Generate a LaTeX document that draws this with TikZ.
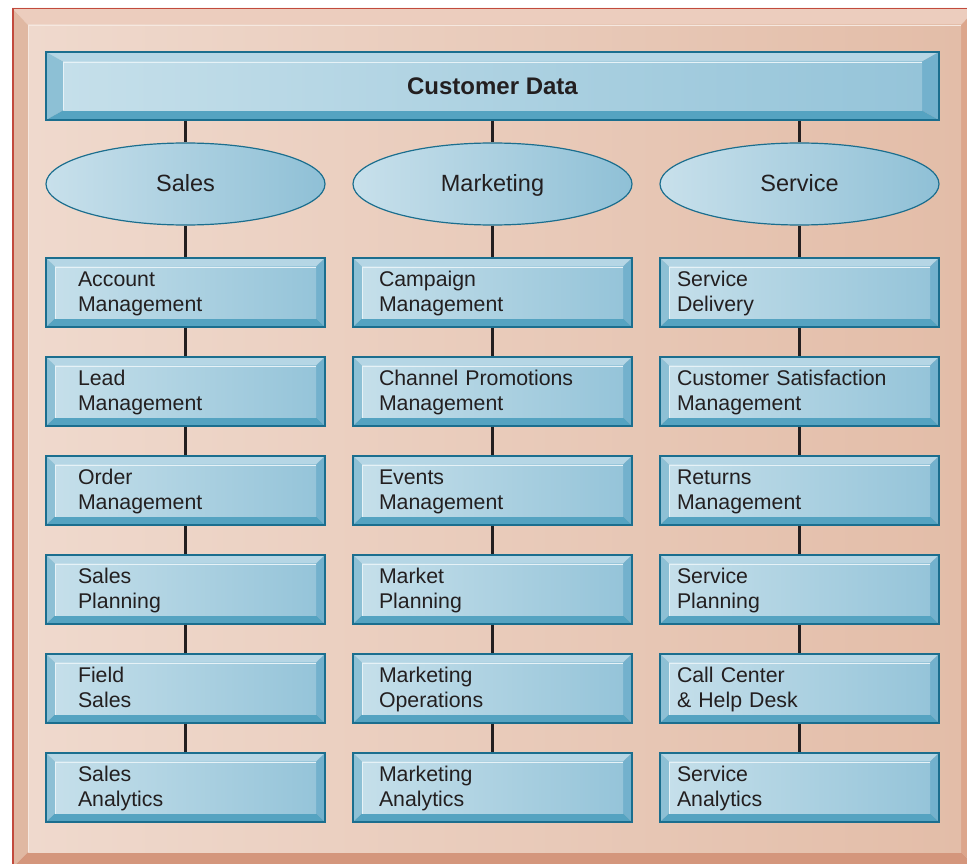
\documentclass[tikz,border=0pt]{standalone}
\usepackage{fontspec}
\setmainfont{Liberation Sans}
\usetikzlibrary{shapes.geometric}
\definecolor{frred}{HTML}{C24A3D}
\definecolor{frtop}{HTML}{ECCDBE}
\definecolor{frleft}{HTML}{E0B8A2}
\definecolor{frright}{HTML}{DCA68C}
\definecolor{frbot}{HTML}{D4967C}
\definecolor{frfaceL}{HTML}{EFD9CD}
\definecolor{frfaceR}{HTML}{E3BDA8}
\definecolor{frhl}{HTML}{F6E8E0}
\definecolor{edge}{HTML}{1B6E8E}
\definecolor{btop}{HTML}{B5D6E5}
\definecolor{bleft}{HTML}{8DC0D5}
\definecolor{bright}{HTML}{73B1CD}
\definecolor{bbot}{HTML}{55A3C1}
\definecolor{faceL}{HTML}{C5DFEA}
\definecolor{faceR}{HTML}{95C4D9}
\definecolor{hl}{HTML}{E6F2F7}
\definecolor{elL}{HTML}{C8E0EB}
\definecolor{elR}{HTML}{8FC0D6}
\definecolor{txt}{HTML}{231F20}
\newcommand{\twol}[3]{\hspace*{#1pt}\rule{0pt}{20.1pt}#2\\\hspace*{#1pt}\strut#3}
\tikzset{
  bevel/.style 2 args={rectangle, draw=edge, line width=1.3pt, inner sep=0pt, text=txt,
    path picture={
      \coordinate (bnw) at (path picture bounding box.north west);
      \coordinate (bne) at (path picture bounding box.north east);
      \coordinate (bsw) at (path picture bounding box.south west);
      \coordinate (bse) at (path picture bounding box.south east);
      \coordinate (inw) at ([shift={(#1pt,-#2pt)}]bnw);
      \coordinate (ine) at ([shift={(-#1pt,-#2pt)}]bne);
      \coordinate (isw) at ([shift={(#1pt,#2pt)}]bsw);
      \coordinate (ise) at ([shift={(-#1pt,#2pt)}]bse);
      \fill[btop] (bnw)--(bne)--(ine)--(inw)--cycle;
      \fill[bleft] (bnw)--(inw)--(isw)--(bsw)--cycle;
      \fill[bright] (bne)--(bse)--(ise)--(ine)--cycle;
      \fill[bbot] (bsw)--(isw)--(ise)--(bse)--cycle;
      \shade[left color=faceL,right color=faceR] (inw) rectangle (ise);
      \draw[hl,line width=1pt] ([shift={(0.8pt,0pt)}]isw) -- ([shift={(0.8pt,-0.8pt)}]inw) -- ([shift={(0pt,-0.8pt)}]ine);
    }},
  sbox/.style={bevel={9}{8.5}, minimum width=279pt, minimum height=69pt,
    text width=247pt, align=left, font=\fontsize{21.3}{25.3}\selectfont},
  ell/.style={ellipse, draw=edge, line width=1.2pt, left color=elL, right color=elR,
    minimum width=279pt, minimum height=82pt, inner sep=0pt, text=txt,
    text height=18pt, text depth=2pt,
    font=\fontsize{23.5}{28}\selectfont},
  conn/.style={draw=txt, line width=2.2pt}
}
\begin{document}
\begin{tikzpicture}[x=1pt,y=-1pt]
\useasboundingbox (0,0) rectangle (967,864);
\begin{scope}
\clip (0,0) rectangle (967,864);
\fill[white] (0,0) rectangle (967,864);
\fill[frtop] (12,8) -- (977,8) -- (961,25) -- (28,25) -- cycle;
\fill[frleft] (12,8) -- (28,25) -- (28,852) -- (12,868) -- cycle;
\fill[frright] (977,8) -- (977,868) -- (961,852) -- (961,25) -- cycle;
\fill[frbot] (12,868) -- (28,852) -- (961,852) -- (977,868) -- cycle;
\shade[left color=frfaceL, right color=frfaceR] (28,25) rectangle (961,852);
\draw[frhl, line width=1.2pt] (28.6,852) -- (28.6,25.6) -- (961,25.6);
\draw[frred, line width=1.5pt] (12.75,900) -- (12.75,8.75) -- (1000,8.75);
\end{scope}

\node[bevel={17}{9.5}, minimum width=893pt, minimum height=68pt,
  font=\bfseries\fontsize{24}{28}\selectfont] (cd) at (492.5,86) {Customer Data};

\node[ell] (e1) at (185.5,184) {Sales};
\node[ell] (e2) at (492.5,184) {Marketing};
\node[ell] (e3) at (799.5,184) {Service};

\node[sbox] (a1) at (185.5,292.5) {\twol{16}{Account}{Management}};
\node[sbox] (a2) at (185.5,391.5) {\twol{16}{Lead}{Management}};
\node[sbox] (a3) at (185.5,490.5) {\twol{16}{Order}{Management}};
\node[sbox] (a4) at (185.5,589.5) {\twol{16}{Sales}{Planning}};
\node[sbox] (a5) at (185.5,688.5) {\twol{16}{Field}{Sales}};
\node[sbox] (a6) at (185.5,787.5) {\twol{16}{Sales}{Analytics}};

\node[sbox] (b1) at (492.5,292.5) {\twol{10}{Campaign}{Management}};
\node[sbox] (b2) at (492.5,391.5) {\twol{10}{Channel Promotions}{Management}};
\node[sbox] (b3) at (492.5,490.5) {\twol{10}{Events}{Management}};
\node[sbox] (b4) at (492.5,589.5) {\twol{10}{Market}{Planning}};
\node[sbox] (b5) at (492.5,688.5) {\twol{10}{Marketing}{Operations}};
\node[sbox] (b6) at (492.5,787.5) {\twol{10}{Marketing}{Analytics}};

\node[sbox] (c1) at (799.5,292.5) {\twol{1}{Service}{Delivery}};
\node[sbox] (c2) at (799.5,391.5) {\twol{1}{Customer Satisfaction}{Management}};
\node[sbox] (c3) at (799.5,490.5) {\twol{1}{Returns}{Management}};
\node[sbox] (c4) at (799.5,589.5) {\twol{1}{Service}{Planning}};
\node[sbox] (c5) at (799.5,688.5) {\twol{1}{Call Center}{\& Help Desk}};
\node[sbox] (c6) at (799.5,787.5) {\twol{1}{Service}{Analytics}};

\foreach \c in {1,2,3} {
  \path[conn] (e\c.north |- cd.south) -- (e\c.north);
}
\foreach \c/\l in {1/a,2/b,3/c} {
  \path[conn] (e\c.south) -- (\l1.north);
  \foreach \i [count=\j from 2] in {1,...,5} {
    \path[conn] (\l\i.south) -- (\l\j.north);
  }
}
\end{tikzpicture}
\end{document}
